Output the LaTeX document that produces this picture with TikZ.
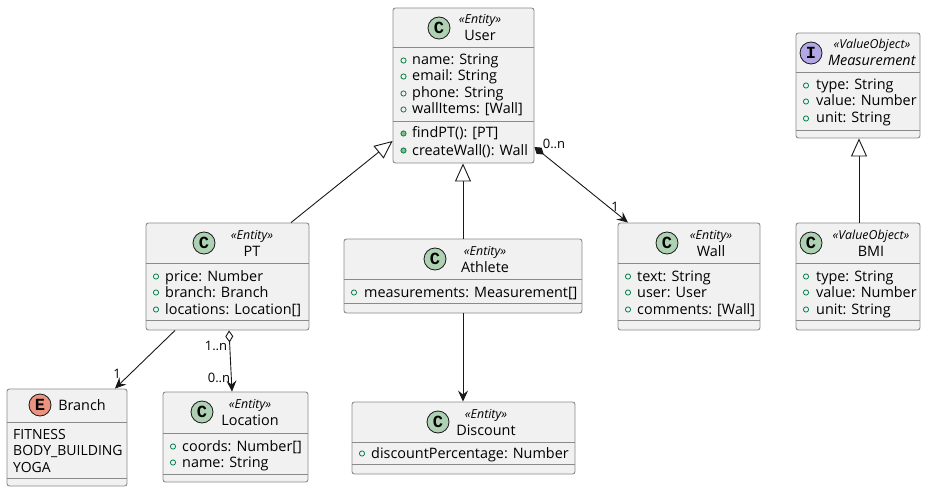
\documentclass[tikz,border=0pt]{standalone}
\usepackage{fontspec}
\setmainfont{Open Sans}
\setmonofont{Liberation Mono}
\usetikzlibrary{arrows.meta}
\definecolor{boxfill}{HTML}{F1F1F1}
\definecolor{boxline}{HTML}{8A8A8A}
\definecolor{arrowline}{HTML}{181818}
\definecolor{classspot}{HTML}{ADD1B2}
\definecolor{enumspot}{HTML}{EB937F}
\definecolor{ifacespot}{HTML}{B4A7E5}
\definecolor{fieldgreen}{HTML}{038048}
\definecolor{methodgreen}{HTML}{84BE84}
\tikzset{
  classbox/.style={draw=boxline,fill=boxfill,line width=0.9pt,rounded corners=2.5pt,inner sep=0pt},
  spot/.style={circle,draw=arrowline,line width=0.8pt,minimum size=22pt,inner sep=0pt,
    font=\ttfamily\bfseries\fontsize{17}{17}\selectfont},
  stereo/.style={inner sep=0pt,anchor=base,font=\itshape\fontsize{12.4}{12.4}\selectfont},
  classname/.style={inner sep=0pt,anchor=base,font=\fontsize{14.4}{14.4}\selectfont},
  member/.style={inner sep=0pt,anchor=base west,font=\fontsize{14.4}{14.4}\selectfont},
  fieldmark/.style={draw=fieldgreen,line width=0.8pt},
  methodmark/.style={draw=fieldgreen,fill=methodgreen,line width=0.8pt},
  link/.style={draw=arrowline,line width=0.9pt},
  headarrow/.style={-{Stealth[length=11pt,width=10pt,inset=4pt]}},
  inherit/.style={-{Triangle[open,fill=white,length=18pt,width=16pt]}},
  compose/.style={{Diamond[fill=arrowline,length=12pt,width=8pt]}-{Stealth[length=11pt,width=10pt,inset=4pt]}},
  aggregate/.style={{Diamond[open,fill=white,length=12pt,width=8pt]}-{Stealth[length=11pt,width=10pt,inset=4pt]}},
  mult/.style={inner sep=0pt,font=\fontsize{13}{13}\selectfont},
}
% #1 name, #2-#5 box corners, #6 and #7 the two dividers
\newcommand{\classframe}[7]{
  \node[classbox,minimum width={#4-#2},minimum height={#5-#3}] (#1) at ({(#2+#4)/2},{(#3+#5)/2}) {};
  \draw[draw=boxline,line width=0.9pt] (#1.west |- 0,#6) -- (#1.east |- 0,#6);
  \draw[draw=boxline,line width=0.9pt] (#1.west |- 0,#7) -- (#1.east |- 0,#7);
}
% #1 name, #2 spot letter, #3 spot colour, #4 spot x, #5 text x, #6 top of box, #7 stereotype, #8 title
\newcommand{\classhead}[8]{
  \node[spot,fill=#3] (#1-spot) at (#4,#6+20) {#2};
  \node[stereo] (#1-stereo) at (#5,#6+16) {«#7»};
  \node[classname] (#1-name) at (#5,#6+33) {#8};
}
\begin{document}
\begin{tikzpicture}[x=1pt,y=-1pt]
  \useasboundingbox (0,0) rectangle (926,492);

  % classes
  \classframe{User}{393}{8}{534}{163}{47}{121}
  \classhead{User}{C}{classspot}{439}{480}{8}{Entity}{User}
  \foreach \n/\y/\t in {name/65/name: String,email/81/email: String,phone/98/phone: String,wall/114/wallItems: [Wall]} {
    \draw[fieldmark] (403.5,\y-4.5) circle (2.6pt);
    \node[member] (User-\n) at (412,\y) {\t};
  }
  \foreach \n/\y/\t in {find/138/findPT(): [PT],create/155/createWall(): Wall} {
    \draw[methodmark] (403.5,\y-4.5) circle (2.6pt);
    \node[member] (User-\n) at (412,\y) {\t};
  }

  \classframe{PT}{146}{223}{309}{330}{263}{320}
  \classhead{PT}{C}{classspot}{204}{252}{223}{Entity}{PT}
  \foreach \n/\y/\t in {price/281/price: Number,branch/297/branch: Branch,loc/314/locations: Location[]} {
    \draw[fieldmark] (156,\y-4.5) circle (2.6pt);
    \node[member] (PT-\n) at (165,\y) {\t};
  }

  \classframe{Athlete}{344}{239}{582}{313}{279}{303}
  \classhead{Athlete}{C}{classspot}{435}{485}{239}{Entity}{Athlete}
  \draw[fieldmark] (354,292.5) circle (2.6pt);
  \node[member] (Athlete-meas) at (364,297) {measurements: Measurement[]};

  \classframe{Wall}{618}{223}{760}{330}{263}{320}
  \classhead{Wall}{C}{classspot}{667}{711}{223}{Entity}{Wall}
  \foreach \n/\y/\t in {text/281/text: String,user/297/user: User,comm/314/comments: [Wall]} {
    \draw[fieldmark] (628,\y-4.5) circle (2.6pt);
    \node[member] (Wall-\n) at (637,\y) {\t};
  }

  \classframe{Measurement}{796}{33}{920}{138}{72}{130}
  \classhead{Measurement}{I}{ifacespot}{811}{872}{33}{ValueObject}{\textit{Measurement}}
  \foreach \n/\y/\t in {type/90/type: String,value/106/value: Number,unit/123/unit: String} {
    \draw[fieldmark] (806,\y-4.5) circle (2.6pt);
    \node[member] (Measurement-\n) at (816,\y) {\t};
  }

  \classframe{BMI}{796}{223}{920}{330}{263}{320}
  \classhead{BMI}{C}{classspot}{811}{871}{223}{ValueObject}{BMI}
  \foreach \n/\y/\t in {type/281/type: String,value/297/value: Number,unit/314/unit: String} {
    \draw[fieldmark] (806,\y-4.5) circle (2.6pt);
    \node[member] (BMI-\n) at (816,\y) {\t};
  }

  \classframe{Branch}{7}{389}{127}{486}{422}{478}
  \node[spot,fill=enumspot] (Branch-spot) at (40,405) {E};
  \node[classname] (Branch-name) at (82,410) {Branch};
  \foreach \n/\y/\t in {fit/439/FITNESS,body/455/BODY\_BUILDING,yoga/472/YOGA} {
    \node[member,font=\fontsize{14}{14}\selectfont] (Branch-\n) at (13,\y) {\t};
  }

  \classframe{Location}{163}{392}{308}{482}{433}{474}
  \classhead{Location}{C}{classspot}{202}{250}{392}{Entity}{Location}
  \foreach \n/\y/\t in {coords/451/coords: Number[],name/467/name: String} {
    \draw[fieldmark] (173,\y-4.5) circle (2.6pt);
    \node[member] (Location-\n) at (182,\y) {\t};
  }

  \classframe{Discount}{352}{402}{575}{474}{442}{464}
  \classhead{Discount}{C}{classspot}{438}{486}{402}{Entity}{Discount}
  \draw[fieldmark] (362,453.5) circle (2.6pt);
  \node[member] (Discount-pct) at (371,458) {discountPercentage: Number};

  % relations
  \draw[link,inherit] ([xshift=63.5pt]PT.north) -- ([yshift=-55.5pt]User.west);
  \draw[link,inherit] (Athlete.north) -- ([xshift=-0.5pt]User.south);
  \draw[link,inherit] ([xshift=1pt]BMI.north) -- ([xshift=1pt]Measurement.south);
  \draw[link,compose] ([yshift=-61.5pt]User.east) -- ([xshift=-61pt]Wall.north);
  \draw[link,headarrow] ([xshift=-52.5pt]PT.south) -- ([xshift=48pt]Branch.north);
  \draw[link,aggregate] ([xshift=1.5pt]PT.south) -- ([xshift=-3.5pt]Location.north);
  \draw[link,headarrow] (Athlete.south) -- ([xshift=-0.5pt]Discount.north);

  % multiplicities
  \node[mult] (mult-user) at (554,144) {0..n};
  \node[mult] (mult-wall) at (615,207) {1};
  \node[mult] (mult-pt) at (216,346) {1..n};
  \node[mult] (mult-loc) at (219,378) {0..n};
  \node[mult] (mult-branch) at (117,374) {1};
\end{tikzpicture}
\end{document}
